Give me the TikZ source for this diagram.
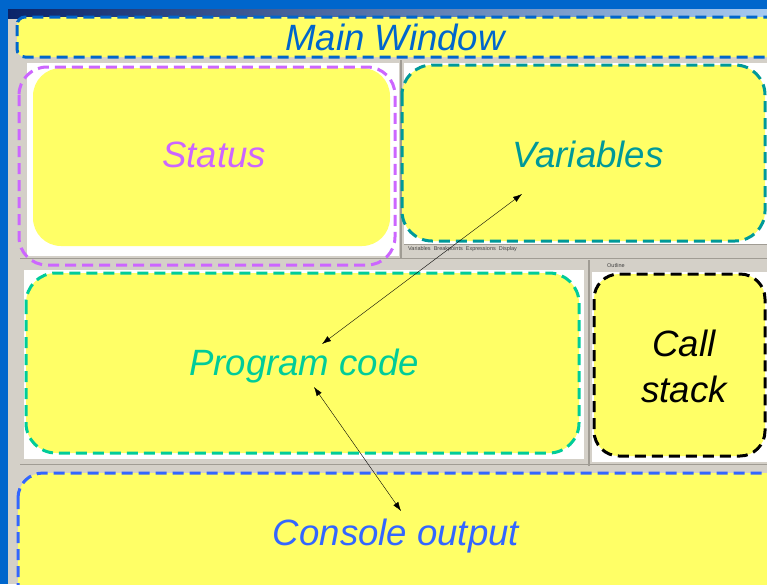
\documentclass[tikz,border=0pt]{standalone}
\usepackage{fontspec}
\setmainfont{Liberation Sans}
\usetikzlibrary{arrows.meta}
\definecolor{bgblue}{HTML}{0066CC}
\definecolor{hl}{HTML}{FFFF66}
\definecolor{wingrey}{HTML}{D4D0C8}
\definecolor{darkgrey}{HTML}{A09C94}
\definecolor{titledark}{HTML}{0A246A}
\definecolor{titlelight}{HTML}{A6CAF0}
\definecolor{mainblue}{HTML}{0066CC}
\definecolor{statpurple}{HTML}{CC66FF}
\definecolor{varteal}{HTML}{009999}
\definecolor{codegreen}{HTML}{00CC99}
\definecolor{consblue}{HTML}{3366FF}
\tikzset{
  box/.style={line width=3pt, dash pattern=on 11pt off 6pt},
  lbl/.style={font=\fontsize{36.6}{46}\selectfont\itshape, inner sep=0pt, anchor=base},
  tab/.style={font=\fontsize{5.5}{6}\selectfont, text=black!75, inner sep=0pt, anchor=west},
  link/.style={thin, {Latex[length=9pt,width=6pt]}-{Latex[length=9pt,width=6pt]}}
}
\begin{document}
\begin{tikzpicture}[x=1pt,y=-1pt]
\useasboundingbox (0,0) rectangle (767,584);
\clip (0,0) rectangle (767,584);
% screenshot background
\fill[bgblue] (0,0) rectangle (767,584);
\fill[wingrey] (8,9) rectangle (767,584);
\shade[left color=titledark, right color=titlelight] (8,9) rectangle (767,18);
% white panels
\fill[white] (27,63) rectangle (399,256);
\fill[white] (404,63) rectangle (767,244);
\fill[white] (24,270) rectangle (584,459);
\fill[white] (592,272) rectangle (767,462);
% separators
\draw[darkgrey, line width=1.5pt] (401,60) -- (401,258);
\draw[darkgrey, line width=1.5pt] (589,260) -- (589,466);
\draw[darkgrey, line width=1pt] (20,258) -- (767,258);
\draw[darkgrey, line width=1pt] (20,464) -- (767,464);
\draw[darkgrey, line width=1pt] (404,244) -- (767,244);
% tab labels
\node[tab] (tv) at (408,249) {Variables\ \ Breakpoints\ \ Expressions\ \ Display};
\node[tab] (to) at (607,266) {Outline};
% Main Window
\draw[box, mainblue, fill=hl, rounded corners=8pt] (17,17) rectangle (790,57);
% Status
\fill[hl, rounded corners=28pt] (33,68) rectangle (390,246);
\draw[box, statpurple, rounded corners=28pt] (19,67) rectangle (395,265);
% Variables
\draw[box, varteal, fill=hl, rounded corners=30pt] (402,65) rectangle (765,241);
% Program code
\draw[box, codegreen, fill=hl, rounded corners=30pt] (26,273) rectangle (579,453);
% Call stack
\draw[box, black, fill=hl, rounded corners=25pt] (594,274) rectangle (765,456);
% Console output
\draw[box, consblue, fill=hl, rounded corners=25pt] (18,473) rectangle (790,620);
% labels
\node[lbl, text=mainblue] (mw) at (395,50) {Main Window};
\node[lbl, text=statpurple] (st) at (214,167) {Status};
\node[lbl, text=varteal] (va) at (588,167) {Variables};
\node[lbl, text=codegreen] (pc) at (304,375) {Program code};
\node[lbl, text=black] (cs1) at (684,356) {Call};
\node[lbl, text=black] (cs2) at (684,402) {stack};
\node[lbl, text=consblue] (co) at (396,545) {Console output};
% connectors
\coordinate (pA) at (322,344);
\coordinate (vA) at (522,194);
\coordinate (pB) at (314,387);
\coordinate (cB) at (401,511);
\draw[link] (pA) -- (vA);
\draw[link] (pB) -- (cB);
\end{tikzpicture}
\end{document}
